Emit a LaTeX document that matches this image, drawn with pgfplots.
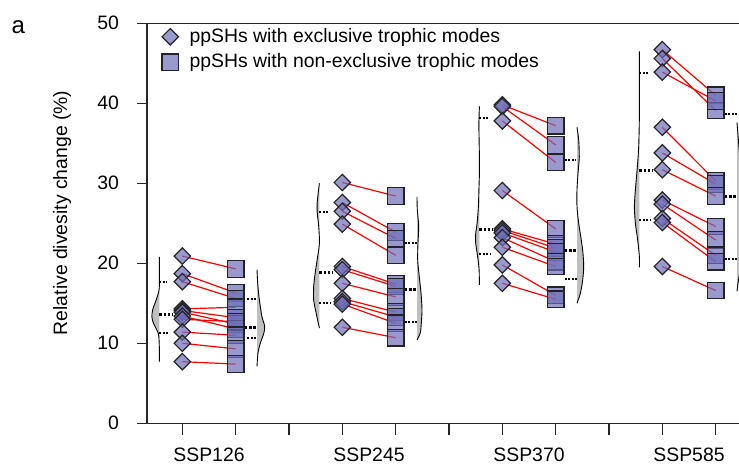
\documentclass[border=0pt]{standalone}
\usepackage{pgfplots}
\usepackage{pgfplotstable}
\pgfplotsset{compat=1.18}
\usepackage{fontspec}
\setmainfont{Liberation Sans}
\definecolor{mfill}{RGB}{110,110,185}
\definecolor{mdraw}{RGB}{35,35,35}

% paired values: exclusive (d) and non-exclusive (s) trophic modes
\pgfplotstableread{
cat d s
0 20.9 19.3
0 18.7 16.3
0 17.7 15.6
0 14.3 14.5
0 14.1 13.2
0 13.9 12.4
0 13.4 11.8
0 13.0 12.7
0 11.4 11.0
0 10.0 9.3
0 7.7 7.4
1 30.1 28.4
1 27.6 23.9
1 26.5 23.1
1 24.9 21.0
1 19.6 17.4
1 19.2 17.1
1 17.5 15.8
1 15.6 13.9
1 15.2 13.3
1 14.9 12.5
1 12.0 10.7
2 39.8 37.2
2 39.6 34.8
2 37.8 32.6
2 29.1 24.3
2 24.3 22.4
2 24.1 21.9
2 23.8 21.4
2 23.2 20.2
2 22.0 19.6
2 19.8 16.0
2 17.5 15.5
3 46.7 41.0
3 45.6 39.1
3 43.9 40.3
3 37.0 30.3
3 33.8 29.9
3 31.7 28.4
3 27.9 24.6
3 27.4 22.9
3 25.6 21.0
3 25.1 20.2
3 19.6 16.6
}\pairs

% density outlines: y value, width in px (1 category = 160 px)
\pgfplotstableread{
y w
20.8 0
18.7 0
16.7 0.3
15.4 3.3
14.2 6.7
13.3 7.5
12.5 6
11.7 2.7
11.0 0.7
9.2 0
7.7 0
}\Lzero
\pgfplotstableread{
y w
19.2 0
17.5 0.7
15.8 2
14.6 3.3
13.3 5
12.1 7.7
11.2 6.7
10.0 3.3
8.8 1
7.1 0
}\Rzero
\pgfplotstableread{
y w
30.0 0
27.5 2.3
26.5 2.3
24.6 0.7
22.5 0
20.4 2.3
18.7 4.3
17.1 5.7
15.4 5.7
13.8 3.3
11.9 0
}\Lone
\pgfplotstableread{
y w
28.3 0
26.7 0.3
24.6 1.7
22.5 1
20.4 0.7
18.3 2.3
16.3 4
14.2 5
12.5 4.3
11.3 3.3
10.4 0
}\Rone
\pgfplotstableread{
y w
39.6 0
37.5 0.5
35.4 0.3
33.3 0
31.2 0
29.2 0.5
27.1 1
25.0 2.3
23.7 3.7
22.5 3.7
20.8 1.7
19.2 0.3
17.3 0
}\Ltwo
\pgfplotstableread{
y w
37.0 0
35.4 1.7
33.3 2.3
31.2 1
29.2 0
27.1 0
25.0 1.7
22.9 4.3
21.2 6
19.6 6.7
17.9 5.7
16.2 3.3
15.0 0
}\Rtwo
\pgfplotstableread{
y w
46.5 0
43.0 0
38.7 0
34.6 0.7
31.7 2.3
29.2 4
27.1 5
25.0 4
22.9 1.7
20.8 0
19.5 0
}\Lthree
\pgfplotstableread{
y w
37.6 0
36.0 1
33.0 3
30.0 5
27.0 6
24.0 6
21.0 5
19.0 3
17.5 1
16.5 0
}\Rthree

% medians and quartiles: start x, y, length
\pgfplotstableread{
x0 y u
-0.31 13.6 0.08
0.225 12.0 0.075
0.69 18.8 0.08
1.225 16.7 0.075
1.69 24.2 0.08
2.225 21.6 0.075
2.69 31.6 0.08
3.225 28.4 0.075
}\med
\pgfplotstableread{
x0 y u
-0.31 17.6 0.05
-0.31 11.3 0.06
0.24 15.5 0.06
0.24 10.6 0.06
0.69 26.4 0.06
0.69 15.0 0.07
1.225 22.5 0.075
1.225 12.6 0.075
1.69 38.2 0.06
1.69 21.2 0.07
2.225 32.9 0.07
2.225 18.0 0.075
2.69 43.8 0.06
2.69 25.4 0.07
3.225 38.6 0.075
3.225 20.5 0.075
}\qua

\begin{document}
\begin{tikzpicture}[font=\fontsize{9.7bp}{11.6bp}\selectfont]
\begin{axis}[
  name=ax,
  scale only axis,
  width=296bp, height=200bp,
  xmin=-0.3875, xmax=3.3125,
  ymin=0, ymax=50,
  axis x line=box, axis y line=left,
  axis line style={-, black!85, line width=0.6bp},
  tick align=outside,
  xtick pos=left,
  xtick={0,1,2,3},
  xticklabels={SSP126,SSP245,SSP370,SSP585},
  major x tick style={draw=none},
  minor xtick={-0.1667,0.1667,0.5,0.8333,1.1667,1.5,1.8333,2.1667,2.5,2.8333,3.1667},
  minor tick length=5.9bp,
  major tick length=5bp,
  tick style={black!85, line width=0.6bp},
  ytick={0,10,20,30,40,50},
  /pgf/number format/assume math mode=true,
  xticklabel style={yshift=-4bp},
  yticklabel style={xshift=-5.5bp},
  every axis y label/.style={at={(axis description cs:-0.1436,0.526)}, rotate=90, anchor=center},
  ylabel={Relative divesity change (\%)},
  legend style={draw=none, fill=none, at={(rel axis cs:0,1)}, anchor=north west,
    xshift=7.5bp, yshift=-0.5bp, inner sep=0pt, outer sep=0pt, row sep=0.2bp,
    /tikz/every odd column/.append style={column sep=3.5bp}},
  legend cell align=left,
  legend image code/.code={\draw[#1] plot coordinates {(0bp,0bp)};},
]
% densities
\addplot[forget plot, smooth, draw=black, line width=0.45bp, fill=black!25] table[x expr=-0.31-\thisrow{w}/160, y=y]{\Lzero};
\addplot[forget plot, smooth, draw=black, line width=0.45bp, fill=black!25] table[x expr=0.30+\thisrow{w}/160, y=y]{\Rzero};
\addplot[forget plot, smooth, draw=black, line width=0.45bp, fill=black!25] table[x expr=0.69-\thisrow{w}/160, y=y]{\Lone};
\addplot[forget plot, smooth, draw=black, line width=0.45bp, fill=black!25] table[x expr=1.30+\thisrow{w}/160, y=y]{\Rone};
\addplot[forget plot, smooth, draw=black, line width=0.45bp, fill=black!25] table[x expr=1.69-\thisrow{w}/160, y=y]{\Ltwo};
\addplot[forget plot, smooth, draw=black, line width=0.45bp, fill=black!25] table[x expr=2.30+\thisrow{w}/160, y=y]{\Rtwo};
\addplot[forget plot, smooth, draw=black, line width=0.45bp, fill=black!25] table[x expr=2.69-\thisrow{w}/160, y=y]{\Lthree};
\addplot[forget plot, smooth, draw=black, line width=0.45bp, fill=black!25] table[x expr=3.30+\thisrow{w}/160, y=y]{\Rthree};
% medians and quartiles
\addplot[forget plot, no markers, black, line width=1.5bp, dash pattern=on 1.2bp off 0.9bp,
  quiver={u=\thisrow{u}, v=0}] table[x=x0, y=y]{\med};
\addplot[forget plot, no markers, black, line width=1bp, dash pattern=on 0.9bp off 0.8bp,
  quiver={u=\thisrow{u}, v=0}] table[x=x0, y=y]{\qua};
% connecting lines
\addplot[forget plot, no markers, red, line width=0.6bp,
  quiver={u=1/3, v=\thisrow{s}-\thisrow{d}}] table[x expr=\thisrow{cat}-1/6, y=d]{\pairs};
% markers
\addplot[only marks, mark=square*, mark size=2.9bp,
  mark options={rotate=45, fill=mfill, fill opacity=0.7, draw=mdraw, line width=0.6bp}]
  table[x expr=\thisrow{cat}-1/6, y=d]{\pairs};
\addlegendentry{ppSHs with exclusive trophic modes}
\addplot[only marks, mark=square*, mark size=4.15bp,
  mark options={fill=mfill, fill opacity=0.7, draw=mdraw, line width=0.6bp}]
  table[x expr=\thisrow{cat}+1/6, y=s]{\pairs};
\addlegendentry{ppSHs with non-exclusive trophic modes}
\end{axis}
\node[font=\fontsize{12bp}{14bp}\selectfont] at ([xshift=-64.3bp,yshift=-1.85bp]ax.north west) {a};
\pgfresetboundingbox
\path ([xshift=-73.5bp,yshift=-20.35bp]ax.south west) rectangle ([yshift=11.65bp]ax.north east);
\end{tikzpicture}
\end{document}
